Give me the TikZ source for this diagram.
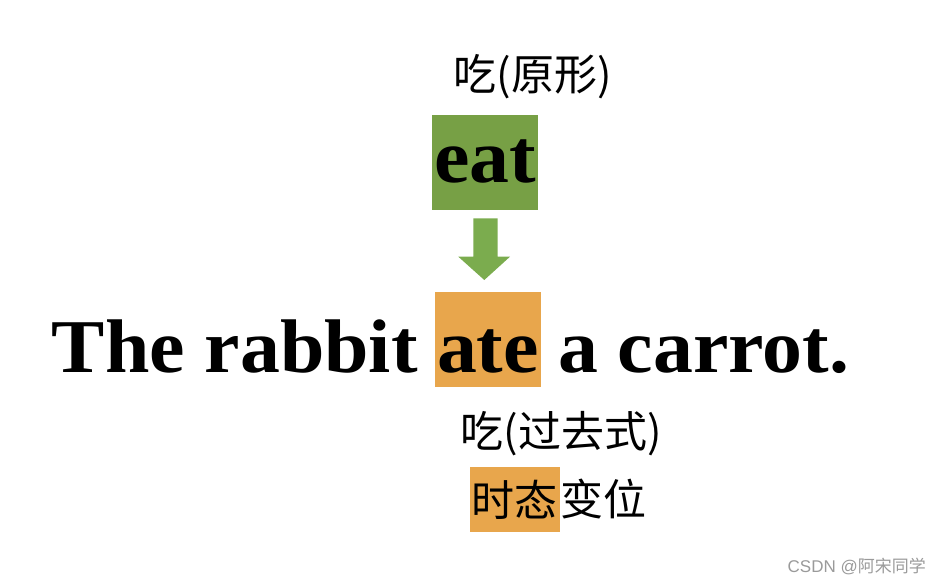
\documentclass[tikz,border=0pt]{standalone}
\usepackage{fontspec}
\setmainfont{Liberation Serif}
\newfontfamily\wordfont[FakeStretch=1.05]{Liberation Serif}
\newfontfamily\cjk{Noto Sans CJK SC}
\newfontfamily\markfont{Liberation Sans}
\definecolor{boxgreen}{HTML}{77A045}
\definecolor{arrowgreen}{HTML}{7BAC4E}
\definecolor{boxorange}{HTML}{E8A64C}
\definecolor{markgray}{HTML}{9A9A9A}

\begin{document}
\begin{tikzpicture}[x=1pt, y=-1pt,
	word/.style={inner sep=0, anchor=base, font=\fontsize{76}{90}\selectfont\wordfont\bfseries},
	han/.style={inner sep=0, font=\fontsize{43}{50}\selectfont\cjk}]
	\useasboundingbox (0,0) rectangle (942,586);

	% the base form
	\node[fill=boxgreen, inner sep=0, minimum width=106, minimum height=95] (eatbox) at (485,162.5) {};
	\node[word] (eat) at (485,182) {eat};
	\node[han] (base) at (533,76.5) {吃(原形)};

	\fill[arrowgreen] (473.3,218.3) -- (497.7,218.3) -- (497.7,256.7) -- (510,256.7)
		-- (484.3,280) -- (458.3,256.7) -- (473.3,256.7) -- cycle;

	% the sentence
	\node[fill=boxorange, inner sep=0, minimum width=106, minimum height=95] (atebox) at (488,339.5) {};
	\node[word] (ate) at (488,372) {ate};
	\node[word, anchor=base east] (subj) at (418,372) {The rabbit};
	\node[word, anchor=base west] (obj) at (558,372) {a carrot.};

	\node[han] (past) at (561,434) {吃(过去式)};
	\node[han, fill=boxorange, inner xsep=2, minimum height=65, anchor=east] (tense) at (560,499.5) {时态};
	\node[han, anchor=west] (change) at (tense.east) {变位};

	\node[text=markgray, inner sep=0, anchor=east, font=\fontsize{17}{20}\selectfont\markfont] (mark) at (926,566) {CSDN @{\cjk 阿宋同学}};
\end{tikzpicture}
\end{document}
